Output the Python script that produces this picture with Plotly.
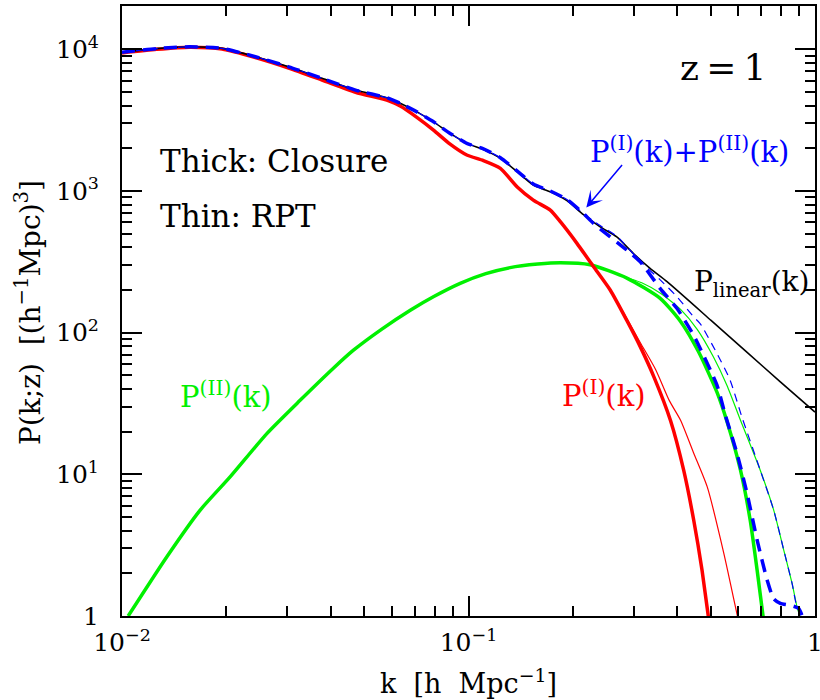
import plotly.graph_objects as go

# ---------------- data ----------------
k_lin = [0.0100, 0.01259, 0.01563, 0.01945, 0.02427, 0.03027, 0.03779, 0.04721, 0.05888, 0.06353,
         0.07096, 0.07925, 0.08851, 0.09886, 0.1104, 0.1236, 0.1380, 0.1538, 0.1722, 0.1923,
         0.2148, 0.2399, 0.2679, 0.2992, 0.3342, 0.3741, 0.5012, 0.6310, 0.7943, 1.0]
P_lin = [9550, 10120, 10420, 10160, 8870, 7530, 6240, 5160, 4510, 4160,
         3620, 3080, 2550, 2170, 1960, 1700, 1370, 1100, 986, 855,
         680, 558, 475, 362, 284, 229, 122, 74, 45, 27.5]

k_P1_closure = [0.0100, 0.01259, 0.01563, 0.01945, 0.02427, 0.03027, 0.03779, 0.04721, 0.05888, 0.06353,
                0.07096, 0.07925, 0.08851, 0.09886, 0.1104, 0.1236, 0.1380, 0.1538, 0.1722, 0.1841,
                0.2056, 0.2296, 0.2564, 0.2864, 0.3133, 0.3428, 0.3828, 0.4178, 0.4467, 0.4721,
                0.4920, 0.5012]
P_P1_closure = [9440, 10000, 10350, 10050, 8750, 7380, 6070, 4980, 4330, 3980,
                3310, 2690, 2140, 1795, 1640, 1445, 1072, 863, 733, 607,
                427, 292, 200, 122, 79.4, 48.8, 24.0, 10.7, 4.74, 2.10,
                1.0, 0.76]

k_P1_rpt = [0.0100, 0.01259, 0.01563, 0.01945, 0.02427, 0.03027, 0.03779, 0.04721, 0.05888, 0.06353,
            0.07096, 0.07925, 0.08851, 0.09886, 0.1104, 0.1236, 0.1380, 0.1538, 0.1722, 0.1841,
            0.2056, 0.2296, 0.2564, 0.2864, 0.3133, 0.3467, 0.3802, 0.4093, 0.4467, 0.4887,
            0.5458, 0.5970, 0.6095]
P_P1_rpt = [9440, 10000, 10350, 10050, 8750, 7380, 6070, 4980, 4330, 3980,
            3310, 2690, 2140, 1795, 1640, 1445, 1072, 863, 733, 607,
            427, 292, 200, 126, 85, 55, 33, 24.1, 14.1, 8.15,
            2.76, 1.0, 0.79]

k_P2_closure = [0.01042, 0.01346, 0.01679, 0.02051, 0.02618, 0.03266, 0.04074, 0.04656, 0.05623, 0.06792,
                0.07943, 0.09462, 0.1122, 0.1318, 0.1585, 0.1841, 0.2244, 0.2864, 0.3581, 0.4093,
                0.4624, 0.5212, 0.5572, 0.6095, 0.6501, 0.6808, 0.7079, 0.7161]
P_P2_closure = [1.0, 2.61, 5.57, 9.59, 19.4, 33.3, 56.1, 75.2, 106, 144,
                180, 223, 261, 288, 305, 312, 302, 243, 174, 120,
                72.4, 38.0, 23.6, 10.7, 4.74, 2.10, 1.0, 0.79]

k_P2_rpt = [0.01042, 0.01346, 0.01679, 0.02051, 0.02618, 0.03266, 0.04074, 0.04656, 0.05623, 0.06792,
            0.07943, 0.09462, 0.1122, 0.1318, 0.1585, 0.1841, 0.2244, 0.2864, 0.3162, 0.3581,
            0.4093, 0.4571, 0.5093, 0.5572, 0.6095, 0.6950, 0.7603, 0.8128, 0.8590, 0.8872,
            0.9036, 0.9120]
P_P2_rpt = [1.0, 2.61, 5.57, 9.59, 19.4, 33.3, 56.1, 75.2, 106, 144,
            180, 223, 261, 288, 305, 312, 302, 245, 225, 190,
            146, 105.5, 67.3, 42.4, 24.1, 10.7, 5.57, 2.91, 1.69, 1.16,
            1.0, 0.89]

k_sum_closure = [0.0100, 0.01259, 0.01563, 0.01945, 0.02427, 0.03027, 0.03779, 0.04721, 0.05888, 0.06353,
                 0.07096, 0.07925, 0.08851, 0.09886, 0.1104, 0.1236, 0.1380, 0.1538, 0.1722, 0.1923,
                 0.2148, 0.2296, 0.2864, 0.3133, 0.3581, 0.3999, 0.4467, 0.4660, 0.5212, 0.5508,
                 0.5957, 0.6368, 0.6808, 0.7278, 0.7603, 0.7943, 0.8492, 0.8974, 0.9183]
P_sum_closure = [9550, 10120, 10420, 10160, 8870, 7530, 6240, 5160, 4510, 4160,
                 3620, 3080, 2550, 2170, 1985, 1718, 1387, 1122, 1000, 871,
                 692, 590, 383, 316, 204, 148, 95.5, 77.6, 42.7, 26.3,
                 14.0, 7.31, 3.43, 1.79, 1.32, 1.23, 1.19, 1.13, 1.0]

k_sum_rpt = [0.0100, 0.01259, 0.01563, 0.01945, 0.02427, 0.03027, 0.03779, 0.04721, 0.05888, 0.06353,
             0.07096, 0.07925, 0.08851, 0.09886, 0.1104, 0.1236, 0.1380, 0.1538, 0.1722, 0.1923,
             0.2148, 0.2399, 0.2679, 0.3133, 0.3581, 0.3999, 0.4467, 0.4660, 0.5212, 0.5689,
             0.6152, 0.6950, 0.7603, 0.8128, 0.8590, 0.8872, 0.9120, 0.9290]
P_sum_rpt = [9550, 10120, 10420, 10160, 8870, 7530, 6240, 5160, 4510, 4160,
             3620, 3080, 2550, 2170, 1985, 1718, 1387, 1122, 1000, 871,
             692, 570, 480, 318, 235, 179, 129, 116, 71.3, 46.2,
             25.4, 10.7, 5.57, 2.91, 1.69, 1.16, 1.06, 1.0]

x_major = [0.01, 0.1, 1]
x_major_text = ["10<sup>−2</sup>", "10<sup>−1</sup>", "1"]
y_major = [1, 10, 100, 1000, 10000]
y_major_text = ["1", "10<sup>1</sup>", "10<sup>2</sup>", "10<sup>3</sup>", "10<sup>4</sup>"]
x_minor = [m * d for d in (0.01, 0.1) for m in range(2, 10)]
y_minor = [m * d for d in (1, 10, 100, 1000) for m in range(2, 10)]

RED = "#ff0000"
GREEN = "#00f000"
BLUE = "#0000ff"
FONT = "DejaVu Serif"

fig = go.Figure()
fig.add_trace(go.Scatter(x=k_P2_rpt, y=P_P2_rpt, mode="lines",
                         line=dict(color=GREEN, width=1.2, shape="spline", smoothing=0.6), name="P(II) RPT"))
fig.add_trace(go.Scatter(x=k_P2_closure, y=P_P2_closure, mode="lines",
                         line=dict(color=GREEN, width=3.5, shape="spline", smoothing=0.6), name="P(II) closure"))
fig.add_trace(go.Scatter(x=k_P1_rpt, y=P_P1_rpt, mode="lines",
                         line=dict(color=RED, width=1.2, shape="spline", smoothing=0.6), name="P(I) RPT"))
fig.add_trace(go.Scatter(x=k_P1_closure, y=P_P1_closure, mode="lines",
                         line=dict(color=RED, width=3.5, shape="spline", smoothing=0.6), name="P(I) closure"))
fig.add_trace(go.Scatter(x=k_lin, y=P_lin, mode="lines",
                         line=dict(color="black", width=1.6, shape="spline", smoothing=0.6), name="P linear"))
fig.add_trace(go.Scatter(x=k_sum_rpt, y=P_sum_rpt, mode="lines",
                         line=dict(color=BLUE, width=1.2, dash="8px,6px", shape="spline", smoothing=0.6),
                         name="sum RPT"))
fig.add_trace(go.Scatter(x=k_sum_closure, y=P_sum_closure, mode="lines",
                         line=dict(color=BLUE, width=3.5, dash="13px,8px", shape="spline", smoothing=0.6),
                         name="sum closure"))

axis_common = dict(
    type="log", showgrid=False, zeroline=False, showline=True, linecolor="black", linewidth=2,
    mirror="allticks", ticks="inside", ticklen=20, tickwidth=1.6, tickcolor="black",
    tickfont=dict(family=FONT, size=25, color="black"), ticklabeloverflow="allow", automargin=False,
)

fig.update_xaxes(
    **axis_common, range=[-2, 0], tickmode="array", tickvals=x_major, ticktext=x_major_text,
    ticklabelstandoff=3,
    minor=dict(tickmode="array", tickvals=x_minor, ticks="inside", ticklen=10, tickwidth=1.6, tickcolor="black"),
    title=dict(text="k  [h  Mpc<sup>−1</sup>]", font=dict(family=FONT, size=27, color="black"), standoff=18),
)
fig.update_yaxes(
    **axis_common, range=[0, 4.306], tickmode="array", tickvals=y_major, ticktext=y_major_text,
    ticklabelstandoff=16,
    minor=dict(tickmode="array", tickvals=y_minor, ticks="inside", ticklen=10, tickwidth=1.6, tickcolor="black"),
)

def pxx(p):
    return (p - 122) / 693.0

def pxy(p):
    return (616 - p) / 610.0

# y-axis title (placed as rotated text for exact positioning)
fig.add_annotation(text="P(k;z)  [(h<sup>−1</sup>Mpc)<sup>3</sup>]", x=pxx(28), y=pxy(313),
                   xref="paper", yref="paper", xanchor="center", yanchor="middle", textangle=-90,
                   showarrow=False, font=dict(family=FONT, size=28, color="black"))

ann = [
    dict(text="z\u2009=\u20091", x=pxx(678), y=pxy(68), size=36, color="black"),
    dict(text="Thick: Closure", x=pxx(158), y=pxy(161), size=31, color="black"),
    dict(text="Thin: RPT", x=pxx(158), y=pxy(216), size=31, color="black"),
    dict(text="P<sup>(I)</sup>(k)+P<sup>(II)</sup>(k)", x=pxx(588), y=pxy(150), size=29, color=BLUE),
    dict(text="P<sub>linear</sub>(k)", x=pxx(692), y=pxy(283), size=28, color="black"),
    dict(text="P<sup>(II)</sup>(k)", x=pxx(178), y=pxy(395), size=29, color=GREEN),
    dict(text="P<sup>(I)</sup>(k)", x=pxx(560), y=pxy(394), size=29, color=RED),
]
for a in ann:
    fig.add_annotation(text=a["text"], x=a["x"], y=a["y"], xref="paper", yref="paper",
                       xanchor="left", yanchor="middle", showarrow=False,
                       font=dict(family=FONT, size=a["size"], color=a["color"]))

# arrow pointing at the summed curve (log-axis coordinates)
fig.add_annotation(x=-0.660, y=2.884, xref="x", yref="y", text="", ax=37, ay=-44,
                   showarrow=True, arrowhead=3, arrowsize=1.8, arrowwidth=1.5, arrowcolor=BLUE)

fig.update_layout(
    width=820, height=700, showlegend=False,
    margin=dict(l=122, r=5, t=6, b=84, autoexpand=False),
    paper_bgcolor="white", plot_bgcolor="white",
    font=dict(family=FONT, color="black"),
)

fig.write_html("out.html", config={"displayModeBar": False},
               post_script="document.body.style.margin='0';document.body.style.overflow='hidden';")
